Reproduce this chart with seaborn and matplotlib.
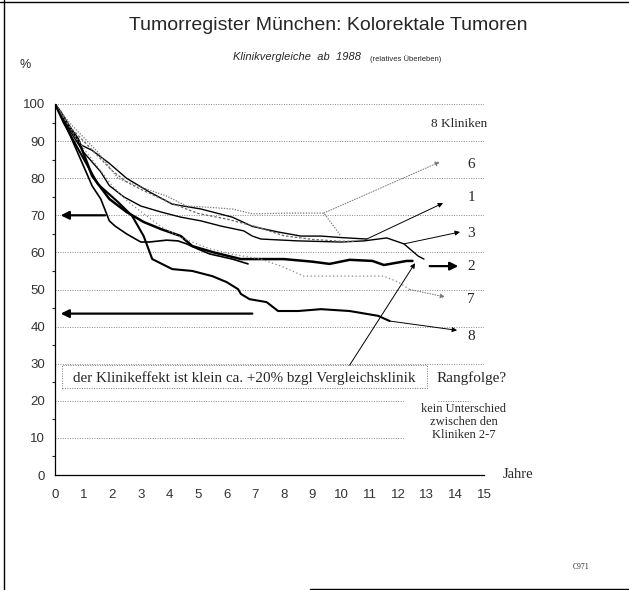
import pandas as pd
import seaborn as sns
import matplotlib.pyplot as plt
from matplotlib.lines import Line2D
from matplotlib.patches import Rectangle

# survival curves per clinic (years, % relative survival)
t1 = [0, 0.2, 0.9, 1.3, 1.9, 2.5, 3.3, 4.1, 5.1, 6.2, 6.9, 7.8, 8.6, 9.3, 10.0, 10.9]
v1 = [100, 98, 89, 87.5, 84, 80, 76.3, 73, 71.7, 69.5, 67, 65.5, 64.4, 64.4, 64, 63.6]

t2 = [0, 0.3, 0.8, 1.3, 1.9, 2.5, 3.1, 3.7, 4.4, 4.8, 5.5, 6.5, 8.0, 9.0, 9.6, 10.3, 11.1, 11.5, 12.3, 12.5]
v2 = [100, 96, 90.6, 80.6, 74.4, 70.9, 68.2, 66.3, 64.4, 61.7, 60.1, 58.2, 58.2, 57.5, 56.9, 58, 57.7, 56.6, 57.7, 57.7]

t3 = [0, 0.5, 1.0, 1.6, 1.9, 2.4, 3.0, 3.7, 4.4, 5.1, 5.8, 6.6, 6.9, 7.2, 8.5, 10.0, 10.8, 11.6, 12.2, 12.7, 12.9]
v3 = [100, 93, 87, 81.7, 78, 75, 72.5, 70.9, 69.5, 68.5, 67.1, 65.8, 64.4, 63.6, 63.1, 62.8, 63.1, 63.9, 62.3, 59, 58.2]

t4 = [0, 0.2, 0.9, 1.3, 1.6, 1.9, 2.1, 2.5, 3.0, 3.3, 3.9, 4.3, 4.6, 5.0, 5.4, 6.2, 6.75]
v4 = [100, 97.3, 85, 77.9, 74.4, 68.5, 67.1, 65, 62.8, 62.8, 63.3, 63.1, 62.3, 60.9, 59.6, 58.2, 56.9]

t5 = [0, 0.5, 1, 1.5, 2, 2.5, 3, 4, 5, 6, 7, 8, 9, 10, 10.5]
v5 = [100, 94, 90, 86, 82, 79, 77, 73.5, 70.5, 69, 67, 64.5, 63.5, 63, 63]

t6 = [0, 0.5, 1.0, 1.5, 2.2, 3.0, 3.9, 4.6, 5.3, 6.2, 6.9, 8.3, 9.4, 10.0]
v6 = [100, 95, 91, 87, 80, 77.6, 75.2, 72.5, 72.2, 71.7, 70.4, 70.6, 70.6, 64.4]

t7 = [0, 0.5, 1.0, 1.5, 2.0, 2.5, 3.0, 3.7, 4.4, 5.4, 6.2, 7.2, 8.0, 8.7, 10.0, 11.5, 12.0, 12.4]
v7 = [100, 94, 88, 83, 78, 74, 71, 67, 64, 61, 59.5, 58.2, 56, 53.6, 53.6, 53.6, 52, 50]

t8 = [0, 0.3, 0.8, 1.5, 2.2, 2.7, 3.1, 3.4, 4.1, 4.8, 5.5, 6.0, 6.4, 6.5, 6.8, 7.4, 7.8, 8.5, 9.3, 10.3, 11.3, 11.7]
v8 = [100, 95, 88, 78.4, 73.6, 69.8, 64.4, 58.2, 55.5, 55.0, 53.6, 52.0, 50.1, 48.8, 47.4, 46.6, 44.2, 44.2, 44.7, 44.2, 42.9, 41.5]

curves = {'1': (t1, v1), '2': (t2, v2), '3': (t3, v3), '4': (t4, v4),
          '5': (t5, v5), '6': (t6, v6), '7': (t7, v7), '8': (t8, v8)}

# label text and y position (%) at the right side
end_labels = ['6', '1', '3', '2', '7', '8']
end_label_y = [83.6, 74.7, 65.2, 56.3, 47.2, 37.2]

x_ticks = list(range(0, 16))
y_ticks = list(range(0, 101, 10))

sns.set_style('white')
plt.rcParams['font.family'] = ['Liberation Sans', 'DejaVu Sans']

fig = plt.figure(figsize=(6.29, 5.90), dpi=100)
ax = fig.add_axes([55 / 629, 1 - 475 / 590, 429 / 629, 371 / 590])

# dotted horizontal grid
for y in y_ticks[1:]:
    xmax = 12.2 if y in (10, 20) else 15
    ax.plot([0, xmax], [y, y], ls=(0, (1, 1.5)), color='#888888', lw=0.7, zorder=1)

styles = {
    '1': dict(color='black', lw=1.0, ls='-'),
    '2': dict(color='black', lw=1.8, ls='-'),
    '3': dict(color='black', lw=1.0, ls='-'),
    '4': dict(color='black', lw=1.2, ls='-'),
    '5': dict(color='#666666', lw=0.9, ls=(0, (2, 1.5))),
    '6': dict(color='#777777', lw=0.9, ls=(0, (1, 1.2))),
    '7': dict(color='#888888', lw=0.9, ls=(0, (1, 2))),
    '8': dict(color='black', lw=1.5, ls='-'),
}
for k, (t, v) in curves.items():
    df = pd.DataFrame({'Jahre': t, 'Prozent': v})
    st = styles[k]
    sns.lineplot(data=df, x='Jahre', y='Prozent', ax=ax, color=st['color'],
                 linewidth=st['lw'], linestyle=st['ls'], estimator=None, sort=False)

ax.set_xlim(0, 15)
ax.set_ylim(0, 100)
ax.set_xlabel('')
ax.set_ylabel('')
ax.set_xticks(x_ticks)
ax.set_yticks(y_ticks)
ax.set_yticks(list(range(5, 100, 10)), minor=True)
ax.tick_params(axis='y', which='major', direction='out', length=4, width=0.8,
               labelsize=9.5, pad=3, labelcolor='#333333')
ax.tick_params(axis='y', which='minor', direction='out', length=2.5, width=0.8, left=True)
ax.tick_params(axis='x', direction='in', length=2, width=0.8, labelsize=9.5, pad=10,
               labelcolor='#333333')
for s in ['top', 'right']:
    ax.spines[s].set_visible(False)
for s in ['left', 'bottom']:
    ax.spines[s].set_linewidth(0.9)
    ax.spines[s].set_color('black')
ax.patch.set_alpha(0)

serif = ['Liberation Serif', 'DejaVu Serif']

# labels at curve ends
for lab, y in zip(end_labels, end_label_y):
    ax.text(14.55, y, lab, family=serif, fontsize=11, ha='center', va='center', clip_on=False)
ax.text(15.1, 94.6, '8 Kliniken', family=serif, fontsize=9.5, ha='right', va='center')

thin = dict(arrowstyle='-|>', color='black', lw=0.7, mutation_scale=7, shrinkA=0, shrinkB=0)
dotted = dict(arrowstyle='-|>', color='#777777', lw=0.7, ls=':', mutation_scale=7, shrinkA=0, shrinkB=0)
thick = dict(arrowstyle='-|>', color='black', lw=1.6, mutation_scale=12, shrinkA=0, shrinkB=0)

ax.annotate('', xy=(13.46, 84.4), xytext=(9.4, 70.6), arrowprops=dotted, annotation_clip=False)
ax.annotate('', xy=(13.57, 73.3), xytext=(10.9, 63.6), arrowprops=thin, annotation_clip=False)
ax.annotate('', xy=(14.16, 65.5), xytext=(12.2, 62.3), arrowprops=thin, annotation_clip=False)
ax.annotate('', xy=(14.1, 56.3), xytext=(13.1, 56.3), arrowprops=thick, annotation_clip=False)
ax.annotate('', xy=(13.64, 48.0), xytext=(12.4, 50.0), arrowprops=dotted, annotation_clip=False)
ax.annotate('', xy=(14.06, 39.0), xytext=(11.7, 41.5), arrowprops=thin, annotation_clip=False)
ax.annotate('', xy=(12.59, 57.1), xytext=(10.3, 29.6), arrowprops=thin, annotation_clip=False)
ax.annotate('', xy=(0.2, 70), xytext=(1.75, 70), arrowprops=thick, annotation_clip=False)
ax.annotate('', xy=(0.2, 43.5), xytext=(6.9, 43.5), arrowprops=thick, annotation_clip=False)

# dotted box with the comment
ax.add_patch(Rectangle((0.24, 23.4), 12.75, 6.2, fill=False, ls=(0, (1, 1.5)),
                       lw=0.7, edgecolor='#777777', clip_on=False))
ax.text(6.6, 26.2, 'der Klinikeffekt ist klein ca. +20% bzgl Vergleichsklinik',
        family=serif, fontsize=10.9, ha='center', va='center')
ax.text(14.58, 26.2, 'Rangfolge?', family=serif, fontsize=11, ha='center', va='center', clip_on=False)
ax.plot([13.4, 14.5], [20, 20], ls=(0, (1, 1.5)), color='#777777', lw=0.7, clip_on=False)
ax.text(14.3, 14.2, 'kein Unterschied\nzwischen den\nKliniken 2-7', family=serif,
        fontsize=9, ha='center', va='center', linespacing=1.1, clip_on=False)
ax.text(15.65, 0, 'Jahre', family=serif, fontsize=10.5, ha='left', va='center', clip_on=False)

# header texts
fig.text(328 / 629, 1 - 25 / 590, 'Tumorregister München: Kolorektale Tumoren',
         fontsize=14, ha='center', va='center')
fig.text(297 / 629, 1 - 57 / 590, 'Klinikvergleiche  ab  1988', fontsize=8,
         style='italic', ha='center', va='center')
fig.text(370 / 629, 1 - 59 / 590, '(relatives Überleben)', fontsize=5.5,
         ha='left', va='center')
fig.text(25 / 629, 1 - 65 / 590, '%', fontsize=9, ha='center', va='center')
fig.text(581 / 629, 1 - 567 / 590, 'C971', fontsize=5.5, family=serif, ha='center', va='center')

# page frame of the scanned slide
fig.add_artist(Line2D([4 / 629, 4 / 629], [0, 1], color='black', lw=1.0))
fig.add_artist(Line2D([0, 1], [1 - 1.5 / 590, 1 - 1.5 / 590], color='black', lw=1.0))
fig.add_artist(Line2D([310 / 629, 1], [1 / 590, 1 / 590], color='black', lw=1.0))

fig.savefig('out.png', dpi=100)
